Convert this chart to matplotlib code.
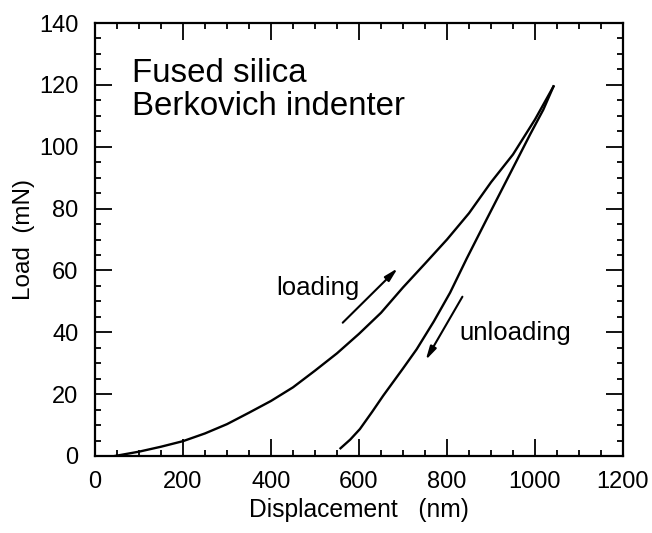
import matplotlib
matplotlib.use("Agg")
import matplotlib.pyplot as plt
from matplotlib.ticker import MultipleLocator

plt.rcParams['font.family'] = ['Liberation Sans', 'DejaVu Sans']

# Loading curve (displacement nm, load mN)
load_x = [45, 100, 150, 200, 250, 300, 350, 400, 450, 500, 550, 600, 650, 700, 750, 800, 850, 900, 950, 1000, 1042]
load_y = [0, 1.4, 3.0, 4.8, 7.3, 10.3, 14.0, 17.8, 22.2, 27.6, 33.2, 39.5, 46.3, 54.5, 62.2, 70.0, 78.5, 88.5, 97.5, 108.8, 119.5]

# Unloading curve
unload_x = [558, 580, 602, 630, 655, 700, 731, 770, 807, 845, 890, 935, 989, 1019, 1042]
unload_y = [2.5, 5.3, 8.7, 14.3, 19.5, 28.3, 34.5, 43.5, 52.8, 63.9, 76.5, 89.0, 104.0, 112.0, 119.5]

x_ticks = [0, 200, 400, 600, 800, 1000, 1200]
y_ticks = [0, 20, 40, 60, 80, 100, 120, 140]

fig = plt.figure(figsize=(6.52, 5.33), dpi=100)
ax = fig.add_axes([95/652, 1-456/533, 528/652, 433/533])

ax.plot(load_x, load_y, color='black', lw=1.7)
ax.plot(unload_x, unload_y, color='black', lw=1.7)

ax.set_xlim(0, 1200)
ax.set_ylim(0, 140)
ax.set_xticks(x_ticks)
ax.set_yticks(y_ticks)
ax.xaxis.set_minor_locator(MultipleLocator(50))
ax.yaxis.set_minor_locator(MultipleLocator(5))
ax.tick_params(which='both', direction='in', top=True, right=True, width=1.3, color='black')
ax.tick_params(which='major', length=12, labelsize=17)
ax.tick_params(axis='x', which='major', pad=11)
ax.tick_params(axis='y', which='major', pad=12)
ax.tick_params(which='minor', length=4)
for s in ax.spines.values():
    s.set_linewidth(1.6)

ax.set_xlabel('Displacement   (nm)', fontsize=17.7)
ax.set_ylabel('Load  (mN)', fontsize=17.5)
ax.xaxis.set_label_coords(0.5, -0.097)
ax.yaxis.set_label_coords(-0.113, 0.5)

ax.text(83, 120.9, 'Fused silica', fontsize=23.8, ha='left', va='baseline')
ax.text(83, 110.2, 'Berkovich indenter', fontsize=23.8, ha='left', va='baseline')
ax.text(411, 52, 'loading', fontsize=18.5, ha='left', va='baseline')
ax.text(827, 37.5, 'unloading', fontsize=18.5, ha='left', va='baseline')

arrow = dict(arrowstyle='-|>,head_length=0.8,head_width=0.2', color='black', lw=1.5,
             shrinkA=0, shrinkB=0)
ax.annotate('', xy=(688, 60.7), xytext=(563, 43.1), arrowprops=arrow)
ax.annotate('', xy=(751.5, 31.0), xytext=(835, 51.5), arrowprops=arrow)

fig.savefig('out.png', dpi=100)
